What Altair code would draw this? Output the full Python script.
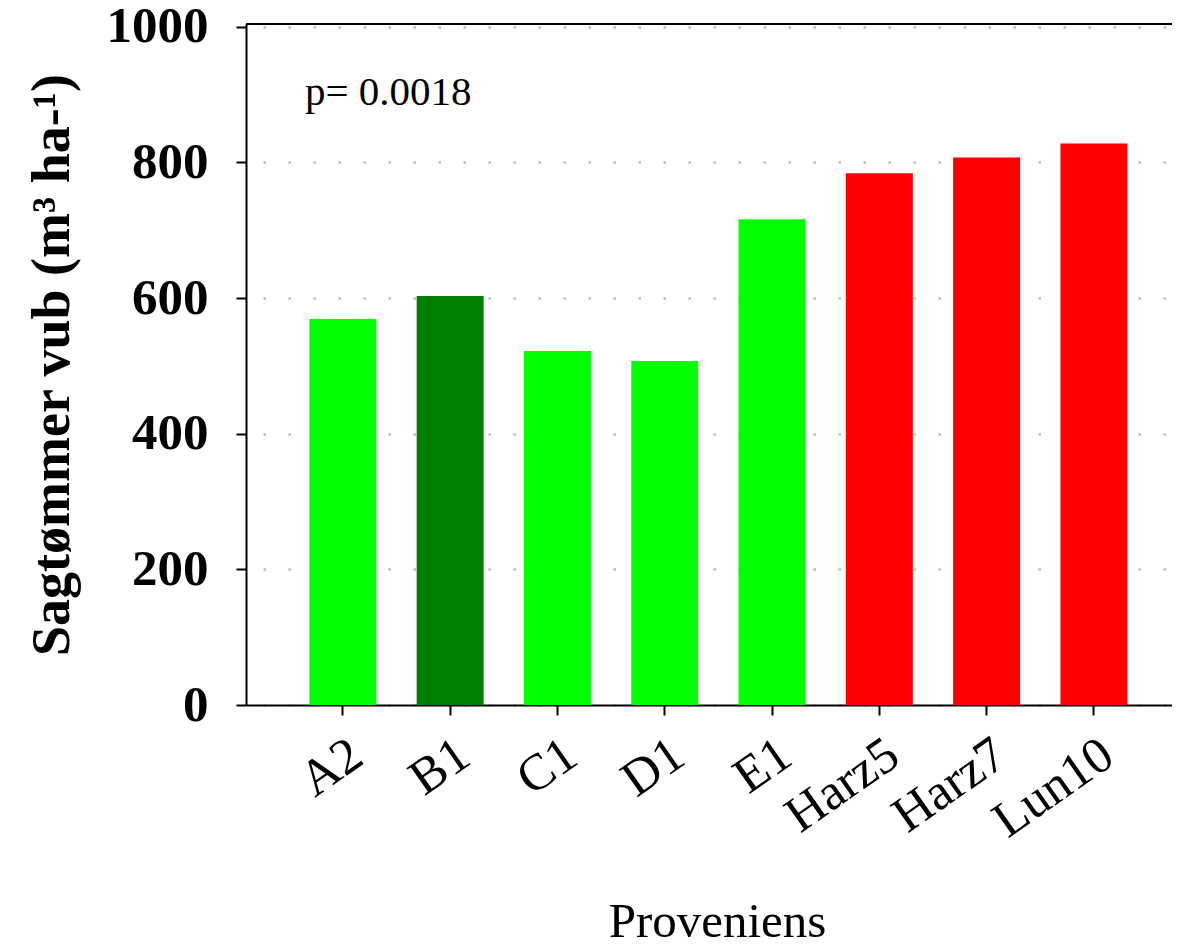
import altair as alt
import pandas as pd

provenances = ["A2", "B1", "C1", "D1", "E1", "Harz5", "Harz7", "Lun10"]
volumes = [569, 603, 522, 507, 716, 784, 807, 828]
groups = ["g1", "g2", "g1", "g1", "g1", "g3", "g3", "g3"]
y_ticks = [0, 200, 400, 600, 800, 1000]
annotation = ["p= 0.0018"]
x_title = "Proveniens"
y_title = "Sagtømmer vub (m³ ha-¹)"

df = pd.DataFrame({"prov": provenances, "vol": volumes, "grp": groups})

W, H = 926, 681
SERIF = "Liberation Serif"

bars = alt.Chart(df).mark_bar().encode(
    x=alt.X(
        "prov:N",
        sort=provenances,
        scale=alt.Scale(paddingInner=0.3756, paddingOuter=0.503, align=0.587),
        axis=alt.Axis(
            title=x_title,
            labelAngle=-35,
            labelAlign="right",
            labelBaseline="top",
            labelFont=SERIF,
            labelFontSize=51,
            labelFontWeight="normal",
            labelColor="black",
            labelPadding=14,
            tickSize=10,
            tickWidth=2,
            tickColor="black",
            domainColor="black",
            domainWidth=2,
            titleFont=SERIF,
            titleFontSize=49,
            titleFontWeight="normal",
            titleColor="black",
            titleX=471,
            titleY=231,
            titleAlign="center",
            titleBaseline="alphabetic",
            grid=False,
        ),
    ),
    y=alt.Y(
        "vol:Q",
        scale=alt.Scale(domain=[0, 1004], nice=False),
        axis=alt.Axis(
            values=y_ticks,
            format="d",
            title=y_title,
            labelFont=SERIF,
            labelFontSize=51,
            labelFontWeight="bold",
            labelColor="black",
            labelPadding=28,
            tickSize=10,
            tickWidth=2,
            tickColor="black",
            domainColor="black",
            domainWidth=2,
            grid=True,
            gridColor="#bdbdbd",
            gridWidth=2.5,
            gridDash=[2.5, 22.5],
            gridDashOffset=8,
            titleFont=SERIF,
            titleFontSize=54,
            titleFontWeight="bold",
            titleColor="black",
            titleAngle=270,
            titleX=-178,
            titleY=340.5,
            titleAlign="center",
            titleBaseline="alphabetic",
        ),
    ),
    color=alt.Color(
        "grp:N",
        scale=alt.Scale(domain=["g1", "g2", "g3"], range=["#00ff00", "#008000", "#ff0000"]),
        legend=None,
    ),
)

top_line = alt.Chart(pd.DataFrame({"a": [0]})).mark_rule(color="black", strokeWidth=2).encode(
    x=alt.value(0), x2=alt.value(W), y=alt.value(0)
)

note = alt.Chart(pd.DataFrame({"t": annotation})).mark_text(
    font=SERIF, fontSize=41, align="left", baseline="alphabetic", color="black"
).encode(text="t:N", x=alt.value(59), y=alt.value(81))

chart = alt.layer(bars, top_line, note).properties(
    width=W,
    height=H,
    padding={"left": 238, "top": 16, "right": 0, "bottom": 234},
    autosize=alt.AutoSizeParams(type="none"),
).configure_view(stroke=None)

chart.save("out.html", embed_options={"renderer": "svg", "actions": False})
